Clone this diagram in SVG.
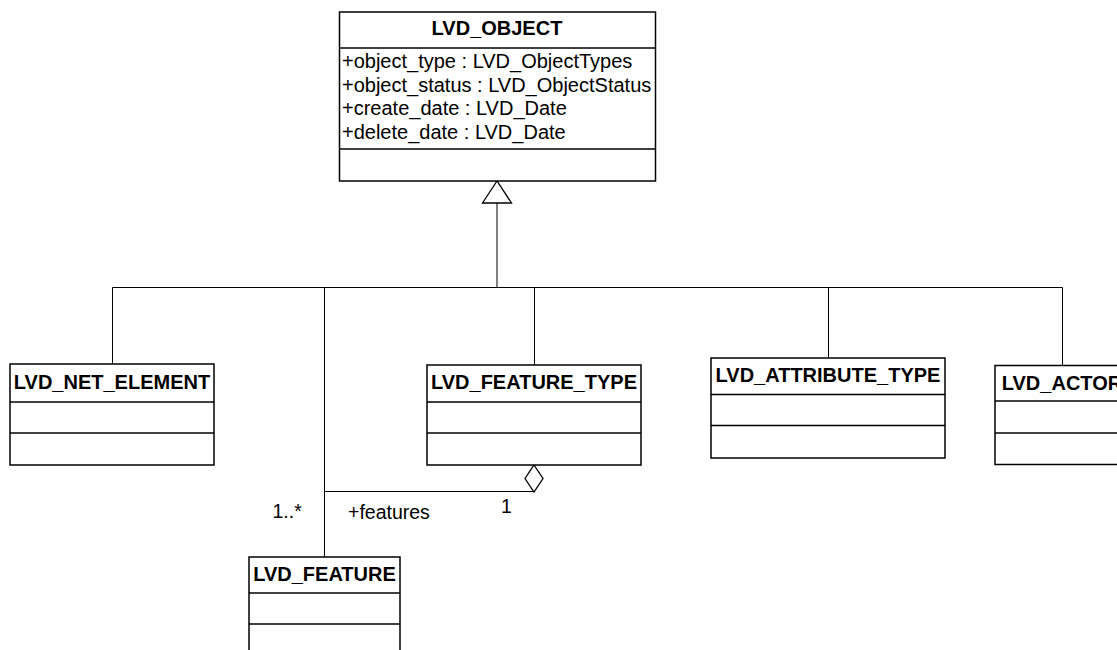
<svg xmlns="http://www.w3.org/2000/svg" width="1117" height="650" viewBox="0 0 1117 650">
<style>
.box{fill:#fff;stroke:#000;stroke-width:1.5}
.sep{stroke:#000;stroke-width:1.5}
.ln{fill:none;stroke:#000;stroke-width:1}
.title{font-family:"Liberation Sans",Arial,sans-serif;font-weight:bold;font-size:20px;text-anchor:middle;fill:#000}
.attr{font-family:"Liberation Sans",Arial,sans-serif;font-size:20px;fill:#000}
.lbl{font-family:"Liberation Sans",Arial,sans-serif;font-size:19.5px;fill:#000}
</style>
<rect width="1117" height="650" fill="#fff"/>
<g id="connectors">
<polyline class="ln" points="497,203 497,287.5"/>
<polyline class="ln" points="112.5,364 112.5,287.5 1062.5,287.5 1062.5,365.5"/>
<line class="ln" x1="534.5" y1="287.5" x2="534.5" y2="365"/>
<line class="ln" x1="828.5" y1="287.5" x2="828.5" y2="358"/>
<line class="ln" x1="324.5" y1="287.5" x2="324.5" y2="557"/>
<polygon points="497,181 482.5,203 511.5,203" fill="#fff" stroke="#000" stroke-width="1.3"/>
<polyline class="ln" points="324.5,491.5 534,491.5"/>
<polygon points="534,465 543,478.5 534,492 525,478.5" fill="#fff" stroke="#000" stroke-width="1.3"/>
<text class="lbl" x="272.5" y="518">1..*</text>
<text class="lbl" x="348" y="519">+features</text>
<text class="lbl" x="501" y="513">1</text>
</g>
<g id="LVD_OBJECT">
<rect class="box" x="339.5" y="12" width="316" height="169"/>
<line class="sep" x1="339.5" y1="48" x2="655.5" y2="48"/>
<line class="sep" x1="339.5" y1="149" x2="655.5" y2="149"/>
<text class="title" x="497" y="35">LVD_OBJECT</text>
<text class="attr" x="342" y="68">+object_type : LVD_ObjectTypes</text>
<text class="attr" x="342" y="91.5">+object_status : LVD_ObjectStatus</text>
<text class="attr" x="342" y="115">+create_date : LVD_Date</text>
<text class="attr" x="342" y="138.5">+delete_date : LVD_Date</text>
</g>
<g id="LVD_NET_ELEMENT">
<rect class="box" x="10" y="364" width="204" height="101"/>
<line class="sep" x1="10" y1="402" x2="214" y2="402"/>
<line class="sep" x1="10" y1="433" x2="214" y2="433"/>
<text class="title" x="112" y="389">LVD_NET_ELEMENT</text>
</g>
<g id="LVD_FEATURE_TYPE">
<rect class="box" x="427" y="365" width="214" height="100"/>
<line class="sep" x1="427" y1="402" x2="641" y2="402"/>
<line class="sep" x1="427" y1="433" x2="641" y2="433"/>
<text class="title" x="534" y="389">LVD_FEATURE_TYPE</text>
</g>
<g id="LVD_ATTRIBUTE_TYPE">
<rect class="box" x="711" y="358" width="234" height="100"/>
<line class="sep" x1="711" y1="394.5" x2="945" y2="394.5"/>
<line class="sep" x1="711" y1="425.5" x2="945" y2="425.5"/>
<text class="title" x="828" y="382">LVD_ATTRIBUTE_TYPE</text>
</g>
<g id="LVD_ACTOR">
<rect class="box" x="995" y="365.5" width="134" height="99"/>
<line class="sep" x1="995" y1="401" x2="1129" y2="401"/>
<line class="sep" x1="995" y1="433" x2="1129" y2="433"/>
<text class="title" x="1062" y="390">LVD_ACTOR</text>
</g>
<g id="LVD_FEATURE">
<rect class="box" x="249" y="557" width="151" height="100"/>
<line class="sep" x1="249" y1="593" x2="400" y2="593"/>
<line class="sep" x1="249" y1="624" x2="400" y2="624"/>
<text class="title" x="324.5" y="581">LVD_FEATURE</text>
</g>
</svg>
